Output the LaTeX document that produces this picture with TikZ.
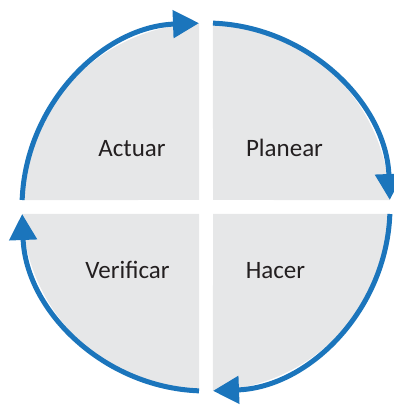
\documentclass[tikz,border=0pt]{standalone}
\usepackage{fontspec}
\setmainfont{Carlito}
\usetikzlibrary{arrows.meta}
\definecolor{cycleblue}{HTML}{1B75BC}
\definecolor{cyclegrey}{HTML}{E6E7E8}
\definecolor{textgrey}{HTML}{231F20}
\tikzset{
  quarter/.style={fill=cyclegrey},
  ring/.style={draw=cycleblue, line width=5pt, -{Triangle[length=26pt,width=27pt]}},
  stage/.style={anchor=base, text=textgrey, font=\fontsize{25}{29}\selectfont}
}
\begin{document}
\begin{tikzpicture}[x=1pt,y=1pt]
  \useasboundingbox (-206,-199) rectangle (187,207);

  % quarters
  \fill[quarter] (7,7) -- (87.82:184) arc[start angle=87.82, end angle=2.18, radius=184] -- cycle;
  \fill[quarter] (7,-7) -- (-2.18:184) arc[start angle=-2.18, end angle=-87.82, radius=184] -- cycle;
  \fill[quarter] (-7,-7) -- (-92.18:184) arc[start angle=-92.18, end angle=-177.82, radius=184] -- cycle;
  \fill[quarter] (-7,7) -- (177.82:184) arc[start angle=177.82, end angle=92.18, radius=184] -- cycle;

  \coordinate (top) at (87.82:184);
  \coordinate (right) at (-2.18:184);
  \coordinate (bottom) at (-92.18:184);
  \coordinate (left) at (177.82:184);

  % cycle
  \draw[ring] (top) arc[start angle=87.82, end angle=2.18, radius=184];
  \draw[ring] (right) arc[start angle=-2.18, end angle=-87.82, radius=184];
  \draw[ring] (bottom) arc[start angle=-92.18, end angle=-177.82, radius=184];
  \draw[ring] (left) arc[start angle=177.82, end angle=92.18, radius=184];

  \node[stage] at (-74, 50) (actuar) {Actuar};
  \node[stage] at (78.5, 50) (planear) {Planear};
  \node[stage] at (-78.5, -71) (verificar) {Verificar};
  \node[stage] at (69.5, -71) (hacer) {Hacer};
\end{tikzpicture}
\end{document}
